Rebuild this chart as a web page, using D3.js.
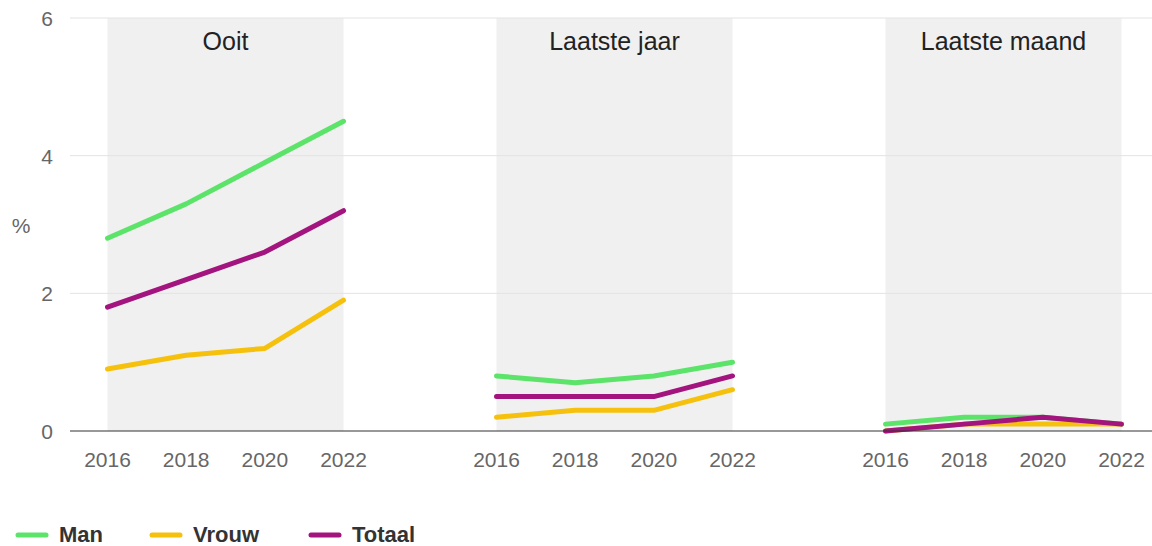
<!DOCTYPE html>
<html><head><meta charset="utf-8">
<script src="https://cdn.jsdelivr.net/npm/d3@7"></script>
<style>body{margin:0;background:#fff;font-family:"Liberation Sans",Arial,sans-serif}</style>
</head><body><svg id="c" width="1152" height="546"></svg>
<script>
const panels = ["Ooit", "Laatste jaar", "Laatste maand"];
const years = ["2016", "2018", "2020", "2022"];
const yTicks = [0, 2, 4, 6];
const seriesNames = ["Man", "Vrouw", "Totaal"];
const colors = ["#5ce36a", "#f5c10c", "#a3147f"];
// values per panel, per year
const man    = [[2.8, 3.3, 3.9, 4.5], [0.8, 0.7, 0.8, 1.0], [0.1, 0.2, 0.2, 0.1]];
const vrouw  = [[0.9, 1.1, 1.2, 1.9], [0.2, 0.3, 0.3, 0.6], [0.0, 0.1, 0.1, 0.1]];
const totaal = [[1.8, 2.2, 2.6, 3.2], [0.5, 0.5, 0.5, 0.8], [0.0, 0.1, 0.2, 0.1]];
const seriesData = [man, vrouw, totaal];

(function () {
const svg = d3.select("#c");
const mL = 70, mR = 1152, mT = 18, mB = 431;
const y = d3.scaleLinear().domain([0, 6]).range([mB, mT]);
const panelX = d3.scalePoint().domain(panels).range([107.5, 885.5]);
const yearX = d3.scalePoint().domain(years).range([0, 236]);
const px = (p, yr) => panelX(p) + yearX(yr);

svg.selectAll("rect.bg").data(panels).join("rect")
  .attr("x", d => panelX(d)).attr("y", mT)
  .attr("width", 236).attr("height", mB - mT).attr("fill", "#f0f0f0");

svg.selectAll("line.grid").data(yTicks.filter(d => d > 0)).join("line")
  .attr("x1", mL).attr("x2", mR).attr("y1", d => y(d)).attr("y2", d => y(d))
  .attr("stroke", "#e3e3e3").attr("stroke-width", 1);

svg.selectAll("text.yl").data(yTicks).join("text")
  .attr("x", 53).attr("y", d => y(d) + 8).attr("text-anchor", "end")
  .attr("font-size", 21).attr("fill", "#666").text(d => d);
svg.append("text").attr("x", 21).attr("y", (y(4) + y(2)) / 2 + 8).attr("text-anchor", "middle")
  .attr("font-size", 21).attr("fill", "#666").text("%");

svg.selectAll("text.pt").data(panels).join("text")
  .attr("x", d => panelX(d) + 118).attr("y", 50).attr("text-anchor", "middle")
  .attr("font-size", 25).attr("fill", "#222").text(d => d);

panels.forEach(p => {
  svg.append("g").selectAll("text").data(years).join("text")
    .attr("x", d => px(p, d)).attr("y", 467).attr("text-anchor", "middle")
    .attr("font-size", 21).attr("fill", "#666").text(d => d);
});

const line = d3.line().x(d => d[0]).y(d => y(d[1]));
seriesData.forEach((s, si) => {
  panels.forEach((p, pi) => {
    const pts = years.map((yr, i) => [px(p, yr), s[pi][i]]);
    svg.append("path").attr("d", line(pts)).attr("fill", "none")
      .attr("stroke", colors[si]).attr("stroke-width", 5)
      .attr("stroke-linejoin", "round").attr("stroke-linecap", "round");
  });
});

svg.append("line").attr("x1", mL).attr("x2", mR).attr("y1", y(0)).attr("y2", y(0))
  .attr("stroke", "#333").attr("stroke-width", 1.2);

const legX = [16, 150, 309];
const lg = svg.selectAll("g.leg").data(seriesNames).join("g")
  .attr("transform", (d, i) => `translate(${legX[i]},535)`);
lg.append("line").attr("x1", 2).attr("x2", 30).attr("y1", 0).attr("y2", 0)
  .attr("stroke", (d, i) => colors[i]).attr("stroke-width", 5).attr("stroke-linecap", "round");
lg.append("text").attr("x", 43).attr("y", 7).attr("font-size", 22).attr("font-weight", "bold")
  .attr("fill", "#333").text(d => d);
})();
</script></body></html>
